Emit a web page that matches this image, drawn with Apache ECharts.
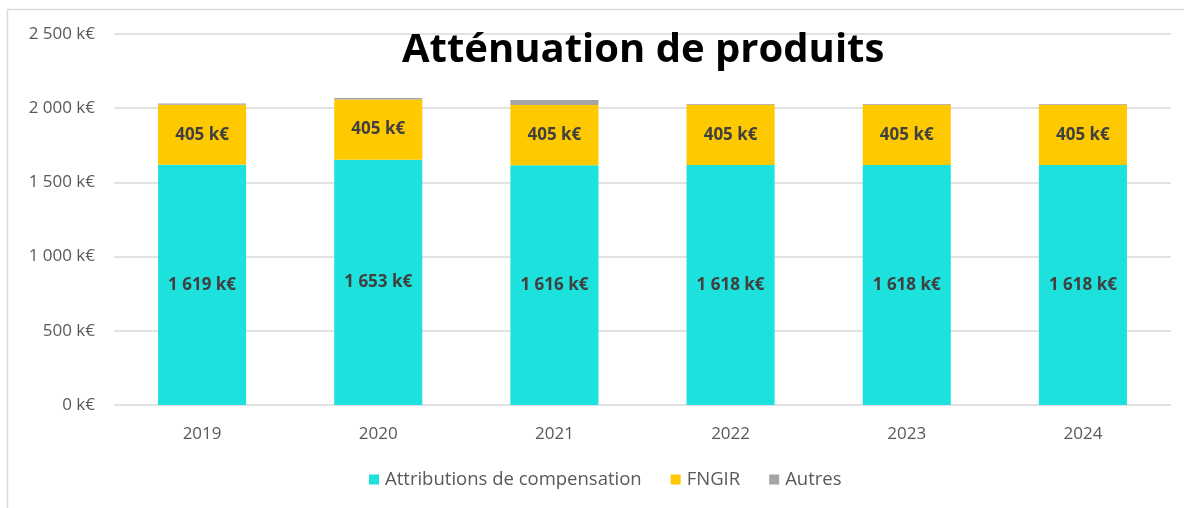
<!DOCTYPE html>
<html>
<head>
<meta charset="utf-8">
<script src="https://cdn.jsdelivr.net/npm/echarts@6/dist/echarts.min.js"></script>
<style>
html,body{margin:0;padding:0;background:#fff;}
#chart{width:1184px;height:508px;}
</style>
</head>
<body>
<div id="chart"></div>
<script>
const categories = ['2019', '2020', '2021', '2022', '2023', '2024'];
const attributions = [1619, 1653, 1616, 1618, 1618, 1618];
const fngir = [405, 405, 405, 405, 405, 405];
const autres = [7, 10, 34, 6, 6, 6];
const yTicks = [0, 500, 1000, 1500, 2000, 2500];

function fmt(v) {
  return String(Math.round(v)).replace(/\B(?=(\d{3})+(?!\d))/g, ' ') + ' k€';
}

const chart = echarts.init(document.getElementById('chart'));
const labelStyle = {
  show: true,
  position: 'inside',
  color: '#404040',
  fontFamily: 'Open Sans',
  fontWeight: 'bold',
  fontSize: 17,
  formatter: p => fmt(p.value)
};
chart.setOption({
  animation: false,
  backgroundColor: '#fff',
  graphic: [{
    type: 'rect',
    shape: { x: 7.5, y: 9.5, width: 1200, height: 520 },
    style: { fill: 'none', stroke: '#d9d9d9', lineWidth: 1.5 },
    silent: true,
    z: -1
  }],
  title: {
    text: 'Atténuation de produits',
    left: 397,
    top: 26,
    textStyle: {
      fontFamily: 'Open Sans',
      fontWeight: 'bold',
      fontSize: 40,
      color: '#000'
    }
  },
  grid: { left: 114, right: 13, top: 34, bottom: 103, containLabel: false },
  legend: {
    bottom: 14,
    left: 364,
    itemWidth: 10,
    itemHeight: 10,
    itemGap: 29,
    icon: 'rect',
    textStyle: { fontFamily: 'Open Sans', fontSize: 18.5, color: '#595959', padding: [0, 0, 0, 1] },
    data: ['Attributions de compensation', 'FNGIR', 'Autres']
  },
  xAxis: {
    type: 'category',
    data: categories,
    axisLine: { show: false },
    axisTick: { show: false },
    axisLabel: { fontFamily: 'Open Sans', fontSize: 17, color: '#595959', margin: 21 }
  },
  yAxis: {
    type: 'value',
    min: yTicks[0],
    max: yTicks[yTicks.length - 1],
    interval: 500,
    axisLine: { show: false },
    axisTick: { show: false },
    splitLine: { lineStyle: { color: '#d9d9d9', width: 1.5 } },
    axisLabel: { fontFamily: 'Open Sans', fontSize: 17, color: '#595959', margin: 19, formatter: v => fmt(v) }
  },
  series: [
    {
      name: 'Attributions de compensation',
      type: 'bar',
      stack: 'total',
      barWidth: '50%',
      data: attributions,
      itemStyle: { color: '#1ce1dc' },
      label: labelStyle
    },
    {
      name: 'FNGIR',
      type: 'bar',
      stack: 'total',
      data: fngir,
      itemStyle: { color: '#ffc900' },
      label: labelStyle
    },
    {
      name: 'Autres',
      type: 'bar',
      stack: 'total',
      data: autres,
      itemStyle: { color: '#a5a5a5' },
      label: { show: false }
    }
  ]
});
</script>
</body>
</html>
